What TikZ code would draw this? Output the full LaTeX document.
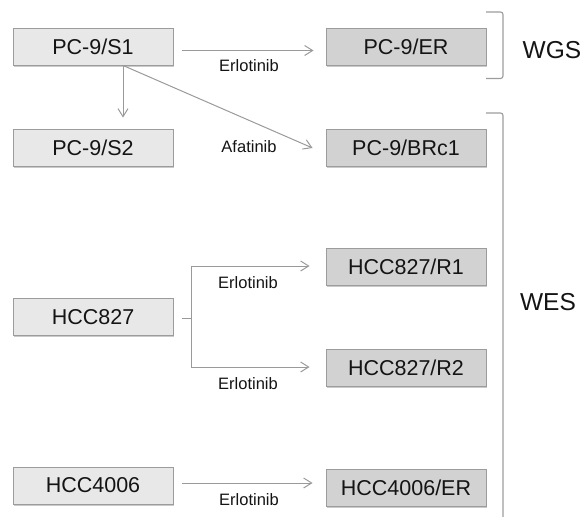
\documentclass[tikz,border=0pt]{standalone}
\usepackage{fontspec}
\setmainfont{Liberation Sans}
\usetikzlibrary{arrows.meta,shadows}
\definecolor{lbox}{HTML}{E8E8E8}
\definecolor{dbox}{HTML}{D2D2D2}
\definecolor{edge}{HTML}{9C9C9C}
\definecolor{conn}{HTML}{9A9A9A}
\definecolor{txt}{HTML}{141414}
\begin{document}
\begin{tikzpicture}[x=1pt,y=-1pt,
  cellbox/.style={draw=edge, line width=0.9pt, minimum width=160pt, minimum height=37pt, inner sep=0pt,
    font=\fontsize{21.5}{24}\selectfont, text=txt,
    drop shadow={shadow xshift=1pt, shadow yshift=-1.6pt, opacity=0.35, fill=black!60}},
  parentbox/.style={cellbox, fill=lbox},
  childbox/.style={cellbox, fill=dbox},
  arr/.style={draw=conn, line width=1pt, -{Straight Barb[length=8pt,width=10pt]}},
  drug/.style={font=\fontsize{16.5}{19}\selectfont, text=txt, inner sep=0pt},
  bracket/.style={draw=edge, line width=1.1pt, rounded corners=2.5pt},
  group/.style={font=\fontsize{24.5}{28}\selectfont, text=txt, inner sep=0pt}]
\useasboundingbox (0,0) rectangle (584,517);

% parent lines
\node[parentbox] (s1) at (93,46.5) {PC-9/S1};
\node[parentbox] (s2) at (93,147.5) {PC-9/S2};
\node[parentbox] (hcc) at (93,317) {HCC827};
\node[parentbox] (h4) at (93,485.5) {HCC4006};

% resistant lines
\node[childbox] (er) at (406,46.5) {PC-9/ER};
\node[childbox] (brc) at (406,147.5) {PC-9/BRc1};
\node[childbox] (r1) at (406,267) {HCC827/R1};
\node[childbox] (r2) at (406,368) {HCC827/R2};
\node[childbox] (h4er) at (406,487.5) {HCC4006/ER};

% connectors
\draw[arr] ([xshift=9pt,yshift=-4pt]s1.east) coordinate (a1) -- ([xshift=-12pt]a1 -| er.west);
\draw[arr] ([xshift=30pt]s1.south) -- ([xshift=30pt,yshift=11pt]s2.north);
\draw[arr] ([xshift=30pt]s1.south) -- ([xshift=-13pt,yshift=-0.5pt]brc.west);
\draw[draw=conn, line width=1pt] ([xshift=9pt,yshift=-1pt]hcc.east) coordinate (hs) -- ([xshift=9pt]hs) coordinate (hj);
\draw[arr] (hj) |- ([xshift=-16pt,yshift=1pt]r1.west);
\draw[arr] (hj) |- ([xshift=-16pt,yshift=1pt]r2.west);
\draw[arr] ([xshift=9pt,yshift=2.5pt]h4.east) coordinate (a4) -- ([xshift=-13pt]a4 -| h4er.west);

% drug labels
\node[drug] (l1) at (249,66) {Erlotinib};
\node[drug] (l2) at (249,147) {Afatinib};
\node[drug] (l3) at (248,283) {Erlotinib};
\node[drug] (l4) at (248,384) {Erlotinib};
\node[drug] (l5) at (249,500) {Erlotinib};

% brackets
\coordinate (wgsT) at (486,12);
\coordinate (wgsB) at (486,78.5);
\draw[bracket] (wgsT) -- (503,12) -- (503,78.5) -- (wgsB);
\coordinate (wesT) at (486,113);
\coordinate (wesB) at (503,520);
\draw[bracket] (wesT) -- (503,113) -- (wesB);
\node[group] (wgs) at (552,50) {WGS};
\node[group] (wes) at (548,302) {WES};
\end{tikzpicture}
\end{document}
